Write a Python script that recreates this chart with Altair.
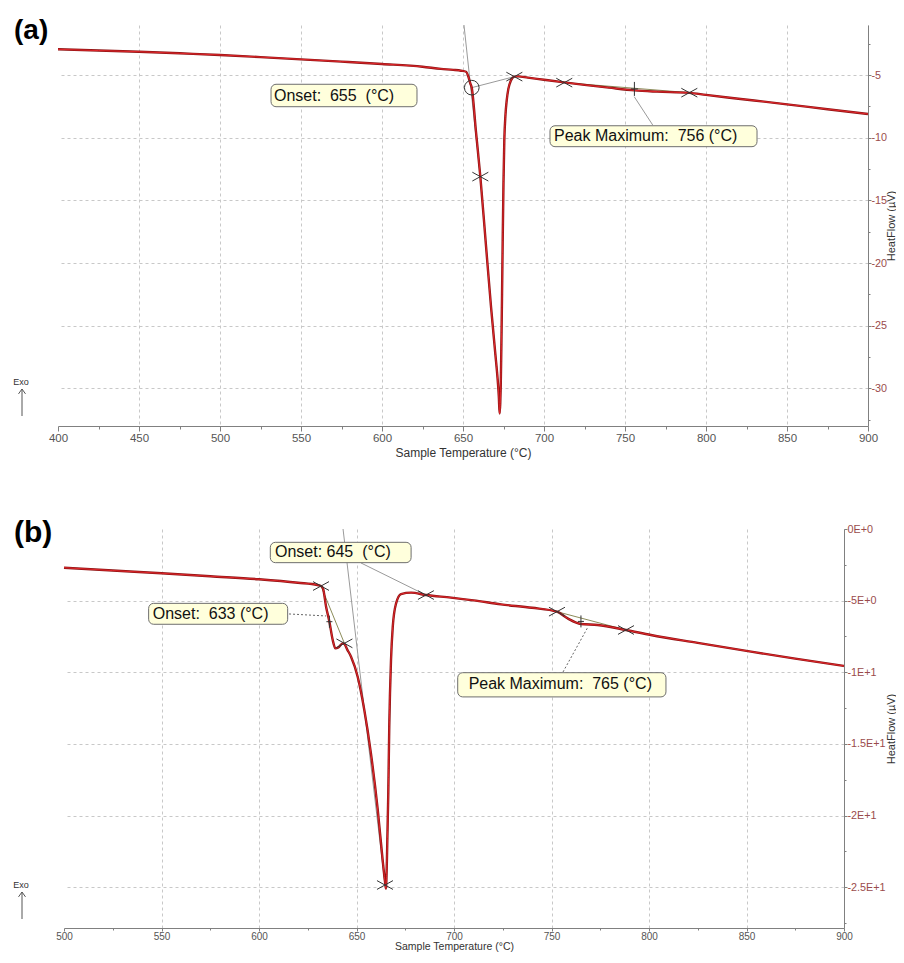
import altair as alt
import pandas as pd

FONT = "Liberation Sans"
GRID = "#c8c8c8"
AXC = "#808080"
NB = "\u00a0"

# ---------------- panel (a) data ----------------
temp_a = [400, 425, 450, 475, 500, 525, 550, 575, 600, 625, 636.4, 644, 648.8, 651.9, 653.3,
          654.5, 655.4, 658, 660.7, 664, 667.3, 670, 671.4, 672.1, 672.6, 673.0, 673.3, 673.7,
          674.1, 674.5, 675.0, 675.5, 676.2, 677.0, 678.0, 679.5, 681.7, 684, 690, 700, 712.5,
          725, 740, 756, 770, 789.7, 800, 820, 850, 875, 900]
flow_a = [-2.94, -3.04, -3.13, -3.26, -3.39, -3.56, -3.74, -3.92, -4.11, -4.33, -4.50, -4.58,
          -4.65, -4.73, -5.12, -5.65, -6.00, -9.50, -13.10, -18.30, -23.50, -27.30, -29.30,
          -30.60, -32.00, -31.20, -29.80, -26.50, -22.50, -18.20, -13.50, -10.20, -8.20, -7.00,
          -6.10, -5.45, -5.12, -5.10, -5.20, -5.37, -5.58, -5.78, -6.00, -6.22, -6.32, -6.42,
          -6.58, -6.88, -7.33, -7.72, -8.10]

xmark_a_T = [660.7, 681.7, 712.5, 789.7]
xmark_a_v = [-13.1, -5.12, -5.6, -6.4]
plus_a_T = [755.8]
plus_a_v = [-6.1]
circle_a_T = [655.4]
circle_a_v = [-6.0]

lines_a_id = ["tan", "tan", "base", "base", "pk", "pk", "conn", "conn"]
lines_a_kind = ["grey", "grey", "grey", "grey", "olive", "olive", "grey", "grey"]
lines_a_T = [650.6, 660.7, 655.4, 681.7, 712.5, 789.7, 755.7, 767.1]
lines_a_v = [-1.0, -13.1, -6.0, -5.12, -5.6, -6.4, -6.72, -8.98]

labels_a_text = ["Onset:" + NB + " 655" + NB + " (°C)", "Peak Maximum:" + NB + " 756 (°C)"]
labels_a_T = [533.3, 706.2]
labels_a_v = [-6.63, -9.87]
boxes_a_T1 = [531.5, 703.7]
boxes_a_T2 = [621.6, 831.5]
boxes_a_v1 = [-5.73, -9.04]
boxes_a_v2 = [-7.52, -10.71]

# ---------------- panel (b) data ----------------
temp_b = [500, 525, 550, 575, 600, 620, 630, 631.8, 632.8, 634.4, 636.1, 637.8, 639.2, 640.7,
          642.9, 643.8, 645.2, 647.2, 650.6, 654.0, 657.4, 660.9, 663.4, 664.6, 665.1, 665.6,
          666.3, 666.8, 667.7, 668.6, 670.3, 672.8, 678, 685.6, 698.5, 710, 724.1, 740, 752.8,
          758.3, 765.1, 773.7, 788.2, 801, 825, 852.3, 875, 900]
flow_b = [-2.70, -2.90, -3.09, -3.30, -3.51, -3.75, -3.91, -3.98, -4.14, -5.42, -6.47, -7.75,
          -8.33, -8.26, -7.98, -8.02, -8.40, -8.91, -10.31, -12.63, -15.66, -19.61, -23.10,
          -24.60, -25.10, -23.10, -18.45, -13.80, -9.14, -6.82, -5.19, -4.54, -4.44, -4.61,
          -4.79, -4.98, -5.26, -5.50, -5.77, -6.24, -6.63, -6.70, -7.05, -7.40, -7.95, -8.56,
          -9.05, -9.56]

xmark_b_T = [631.8, 643.8, 664.6, 685.6, 752.8, 788.2]
xmark_b_v = [-3.98, -7.98, -24.85, -4.61, -5.77, -7.05]
plus_b_T = [636.1, 765.1]
plus_b_v = [-6.47, -6.45]

lines_b_id = ["tan", "tan", "c645", "c645", "tan2", "tan2", "c633", "c633", "cpk", "cpk", "pk", "pk"]
lines_b_kind = ["grey", "grey", "grey", "grey", "olive", "olive", "dot", "dot", "dot", "dot", "olive", "olive"]
lines_b_T = [643.1, 664.6, 652.3, 685.6, 631.8, 643.8, 615.4, 634.4, 755.9, 768.7, 752.8, 788.2]
lines_b_v = [0.0, -24.8, -2.37, -4.61, -3.98, -7.98, -5.93, -6.07, -9.98, -6.84, -5.77, -7.05]

labels_b_text = ["Onset: 645" + NB + " (°C)", "Onset:" + NB + " 633 (°C)", "Peak Maximum:" + NB + " 765 (°C)"]
labels_b_T = [608.2, 545.5, 707.5]
labels_b_v = [-1.64, -5.92, -10.84]
boxes_b_T1 = [605.8, 543.4, 701.9]
boxes_b_T2 = [678.0, 614.7, 808.7]
boxes_b_v1 = [-0.93, -5.19, -10.03]
boxes_b_v2 = [-2.35, -6.65, -11.72]

XPATH = "M-1,-0.55L1,0.55M-1,0.55L1,-0.55"
PLUSPATH = "M-0.5,0L0.5,0M0,-1L0,1"
CHEVRON = "M-1,1.4L0,0L1,1.4"


def build_panel(tag, W, H, xdom, ydom, curve_T, curve_v, xm_T, xm_v, pl_T, pl_v, plus_size,
                ln_id, ln_kind, ln_T, ln_v, lb_text, lb_T, lb_v, bx_T1, bx_T2, bx_v1, bx_v2,
                y_values, y_label_expr, y_title_x, x_style,
                circ=None, anchor=False, tag_pos=(0, 0), tag_size=28, exo_pos=(0, 0)):
    x_values = list(range(xdom[0], xdom[1] + 1, 25))
    ax_x = alt.Axis(
        values=x_values,
        labelExpr="datum.value % 50 === 0 ? toString(datum.value) : ''",
        title="Sample Temperature (°C)",
        grid=True, gridColor=GRID, gridDash=[3, 3],
        gridOpacity={"condition": {"test": f"datum.value % 50 !== 0 || datum.value === {xdom[0]}", "value": 0}, "value": 1},
        tickSize={"condition": {"test": "datum.value % 50 === 0", "value": x_style["tick"]}, "value": x_style["minor"]},
        domainColor=AXC, tickColor=AXC, labelColor="#555555", labelFont=FONT, labelFontSize=x_style["label"],
        labelPadding=x_style["pad"], labelFlush=False, labelOverlap=False,
        titleFont=FONT, titleFontSize=x_style["title"], titleFontWeight="normal", titleColor="#333333",
        titleY=x_style["titleY"], titleBaseline="middle",
    )
    ax_y = alt.Axis(
        orient="right", values=y_values, labelExpr=y_label_expr,
        title="HeatFlow (µV)",
        grid=True, gridColor=GRID, gridDash=[3, 3],
        gridOpacity={"condition": {"test": "datum.value % 5 !== 0 || datum.value === 0", "value": 0}, "value": 1},
        tickSize={"condition": {"test": "datum.value % 5 === 0", "value": 3}, "value": 2},
        domainColor=AXC, tickColor=AXC, labelColor="#9A4B4B", labelFont=FONT, labelFontSize=10.8,
        labelPadding=0, labelFlush=False, labelOverlap=False,
        titleFont=FONT, titleFontSize=11, titleFontWeight="normal", titleColor="#333333",
        titleAngle=270, titleX=y_title_x, titleY=H / 2, titleAlign="center", titleBaseline="middle",
    )
    xs = alt.Scale(domain=list(xdom), nice=False, zero=False)
    ys = alt.Scale(domain=list(ydom), nice=False, zero=False)

    def X(f):
        return alt.X(f, type="quantitative", scale=xs, axis=ax_x)

    def Y(f):
        return alt.Y(f, type="quantitative", scale=ys, axis=ax_y)

    curve = pd.DataFrame({"T": curve_T, "v": curve_v})
    lines = pd.DataFrame({"id": ln_id, "kind": ln_kind, "T": ln_T, "v": ln_v})
    xm = pd.DataFrame({"T": xm_T, "v": xm_v})
    pl = pd.DataFrame({"T": pl_T, "v": pl_v})
    labels = pd.DataFrame({"label": lb_text, "T": lb_T, "v": lb_v})
    boxes = pd.DataFrame({"T1": bx_T1, "T2": bx_T2, "v1": bx_v1, "v2": bx_v2})
    one = pd.DataFrame({"k": [0]})

    layers = []
    if anchor:
        layers.append(alt.Chart(one).mark_rule(color="white", strokeWidth=1).encode(
            x=alt.value(-49), x2=alt.value(-48), y=alt.value(-16.5), y2=alt.value(-16.5)))
    # annotation lines
    layers.append(alt.Chart(lines).mark_line(color="#9a9a9a", strokeWidth=1).encode(
        x=X("T"), y=Y("v"), detail="id:N").transform_filter("datum.kind === 'grey'"))
    layers.append(alt.Chart(lines).mark_line(color="#8c8c5a", strokeWidth=1).encode(
        x=X("T"), y=Y("v"), detail="id:N").transform_filter("datum.kind === 'olive'"))
    layers.append(alt.Chart(lines).mark_line(color="#666666", strokeWidth=1, strokeDash=[2, 2]).encode(
        x=X("T"), y=Y("v"), detail="id:N").transform_filter("datum.kind === 'dot'"))
    # curve
    layers.append(alt.Chart(curve).mark_line(color="#8E1414", strokeWidth=2.4, interpolate="monotone").encode(
        x=X("T"), y=Y("v")))
    layers.append(alt.Chart(curve).mark_line(color="#E3262B", strokeWidth=1, interpolate="monotone").encode(
        x=X("T"), y=Y("v")))
    # markers
    layers.append(alt.Chart(xm).mark_point(shape=XPATH, size=256, filled=False, color="#333333",
                                           strokeWidth=1, opacity=1).encode(x=X("T"), y=Y("v")))
    layers.append(alt.Chart(pl).mark_point(shape=PLUSPATH, size=plus_size, filled=False, color="#333333",
                                           strokeWidth=1, opacity=1).encode(x=X("T"), y=Y("v")))
    if circ is not None:
        cdf = pd.DataFrame({"T": circ[0], "v": circ[1]})
        layers.append(alt.Chart(cdf).mark_point(shape="circle", size=215, filled=False, color="#333333",
                                                strokeWidth=1, opacity=1).encode(x=X("T"), y=Y("v")))
    # label boxes
    layers.append(alt.Chart(boxes).mark_rect(fill="#FFFFDC", stroke="#6e6e6e", strokeWidth=1, cornerRadius=5).encode(
        x=X("T1"), x2="T2", y=Y("v1"), y2="v2"))
    layers.append(alt.Chart(labels).mark_text(align="left", baseline="middle", font=FONT, fontSize=16,
                                              color="#111111").encode(x=X("T"), y=Y("v"), text="label:N"))
    # panel tag and Exo arrow
    layers.append(alt.Chart(one).mark_text(text=tag, align="left", baseline="middle", font=FONT,
                                           fontSize=tag_size, fontWeight="bold", color="#000000").encode(
        x=alt.value(tag_pos[0]), y=alt.value(tag_pos[1])))
    layers.append(alt.Chart(one).mark_text(text="Exo", align="center", baseline="middle", font=FONT,
                                           fontSize=9, color="#333333").encode(
        x=alt.value(exo_pos[0]), y=alt.value(exo_pos[1])))
    layers.append(alt.Chart(one).mark_rule(color="#555555", strokeWidth=1).encode(
        x=alt.value(exo_pos[0] + 1), y=alt.value(exo_pos[1] + 7), y2=alt.value(exo_pos[1] + 34)))
    layers.append(alt.Chart(one).mark_point(shape=CHEVRON, size=49, filled=False, color="#555555",
                                            strokeWidth=1, opacity=1).encode(
        x=alt.value(exo_pos[0] + 1), y=alt.value(exo_pos[1] + 7)))

    return alt.layer(*layers).properties(width=W, height=H)


y_vals_a = [-2.5 * i for i in range(1, 14)]
y_expr_a = "datum.value % 5 === 0 ? '-' + toString(abs(datum.value)) : ''"
y_vals_b = [-2.5 * i for i in range(0, 12)]
y_expr_b = ("datum.value % 5 === 0 ? (datum.value < 0 ? '-' : '') + "
            "upper(format(abs(datum.value), '~e')) : ''")

x_style_a = {"tick": 5, "minor": 3, "pad": 1, "label": 11.5, "title": 12, "titleY": 26}
x_style_b = {"tick": 3, "minor": 2, "pad": 0, "label": 10, "title": 10.5, "titleY": 18.5}

chart_a = build_panel(
    "(a)", 810, 401, (400, 900), (-33, -1), temp_a, flow_a, xmark_a_T, xmark_a_v, plus_a_T, plus_a_v, 196,
    lines_a_id, lines_a_kind, lines_a_T, lines_a_v, labels_a_text, labels_a_T, labels_a_v,
    boxes_a_T1, boxes_a_T2, boxes_a_v1, boxes_a_v2, y_vals_a, y_expr_a, 23, x_style_a,
    circ=(circle_a_T, circle_a_v), anchor=True, tag_pos=(-44, 6), tag_size=28, exo_pos=(-37, 357))

chart_b = build_panel(
    "(b)", 780, 399, (500, 900), (-27.85, 0), temp_b, flow_b, xmark_b_T, xmark_b_v, plus_b_T, plus_b_v, 144,
    lines_b_id, lines_b_kind, lines_b_T, lines_b_v, labels_b_text, labels_b_T, labels_b_v,
    boxes_b_T1, boxes_b_T2, boxes_b_v1, boxes_b_v2, y_vals_b, y_expr_b, 47, x_style_b,
    tag_pos=(-50, 4), tag_size=30, exo_pos=(-43, 356))

spacer = alt.Chart(pd.DataFrame({"k": [0]})).mark_point(opacity=0).encode(
    x=alt.value(0), y=alt.value(0)).properties(width=6, height=399)

bottom = alt.hconcat(spacer, chart_b, spacing=0, bounds="flush")

chart = alt.vconcat(chart_a, bottom, spacing=103, bounds="flush").properties(
    padding=0, background="white").configure_view(stroke=None)

chart.save("out.html", embed_options={"renderer": "svg", "actions": False})
